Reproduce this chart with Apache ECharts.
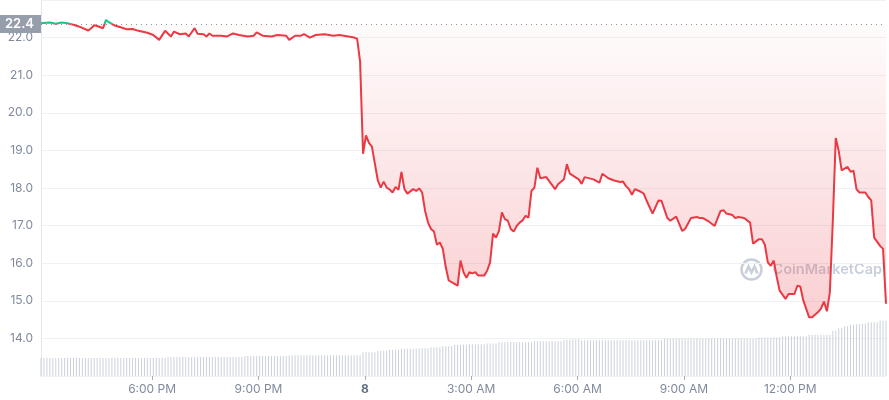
<!DOCTYPE html>
<html>
<head>
<meta charset="utf-8">
<script src="https://cdn.jsdelivr.net/npm/echarts@6/dist/echarts.min.js"></script>
<style>
  html, body { margin: 0; padding: 0; background: #fff; }
  #chart { width: 889px; height: 400px; }
</style>
</head>
<body>
<div id="chart"></div>
<script>
// 5-minute slots counted from 2:52 PM on the 7th
const priceSlots = [
  0, 3, 5, 7, 9, 11, 13, 16, 17, 18, 19, 21, 22, 23, 25, 28, 29, 31, 33, 36,
  38, 40, 42, 44, 45, 47, 49, 50, 52, 53, 55, 56, 57, 58, 61, 63, 65, 67, 70, 72,
  73, 75, 78, 80, 83, 84, 86, 88, 89, 91, 93, 96, 99, 101, 104, 106, 107, 108, 109, 110,
  111, 112, 114, 115, 116, 117, 118, 119, 120, 121, 122, 123, 124, 126, 127, 128, 129, 130, 131, 132,
  133, 134, 135, 136, 137, 138, 140, 141, 142, 143, 144, 145, 146, 147, 148, 150, 151, 152, 153, 154,
  155, 156, 157, 158, 159, 160, 161, 162, 163, 164, 165, 166, 167, 168, 169, 171, 174, 175, 177, 178,
  179, 182, 183, 184, 187, 189, 190, 192, 194, 196, 197, 198, 199, 200, 201, 203, 204, 205, 207, 209,
  210, 212, 213, 215, 217, 218, 220, 222, 223, 224, 226, 228, 230, 231, 232, 234, 235, 236, 238, 239,
  240, 241, 243, 244, 245, 246, 247, 248, 249, 250, 252, 253, 255, 256, 257, 258, 260, 261, 263, 264,
  265, 266, 267, 268, 269, 270, 271, 273, 274, 275, 276, 277, 279, 280, 281, 282, 284, 285, 286
];
const prices = [
  22.38, 22.40, 22.37, 22.40, 22.38, 22.34, 22.29, 22.19, 22.25, 22.33, 22.31, 22.25, 22.47, 22.41, 22.32, 22.25, 22.22, 22.23, 22.18, 22.13,
  22.07, 21.94, 22.18, 22.03, 22.16, 22.09, 22.11, 22.03, 22.25, 22.10, 22.09, 22.03, 22.11, 22.05, 22.05, 22.03, 22.11, 22.07, 22.03, 22.05,
  22.14, 22.05, 22.03, 22.07, 22.05, 21.94, 22.05, 22.05, 22.09, 22.00, 22.07, 22.09, 22.05, 22.07, 22.03, 22.00, 21.97, 21.36, 18.91, 19.40,
  19.20, 19.10, 18.20, 18.01, 18.17, 18.01, 17.96, 17.88, 18.03, 17.95, 18.43, 17.97, 17.85, 17.97, 17.92, 17.99, 17.88, 17.39, 17.08, 16.91,
  16.84, 16.49, 16.55, 16.38, 15.89, 15.54, 15.45, 15.40, 16.07, 15.76, 15.61, 15.76, 15.73, 15.76, 15.67, 15.67, 15.80, 16.02, 16.79, 16.68,
  16.86, 17.35, 17.17, 17.13, 16.91, 16.84, 16.99, 17.08, 17.14, 17.26, 17.21, 17.92, 18.01, 18.54, 18.26, 18.29, 17.97, 18.10, 18.23, 18.63,
  18.38, 18.23, 18.11, 18.29, 18.23, 18.14, 18.38, 18.26, 18.20, 18.16, 18.17, 18.05, 17.97, 17.82, 17.97, 17.90, 17.85, 17.66, 17.32, 17.67,
  17.66, 17.20, 17.13, 17.24, 16.86, 16.91, 17.20, 17.23, 17.20, 17.20, 17.11, 16.99, 17.39, 17.41, 17.32, 17.28, 17.20, 17.23, 17.20, 17.14,
  17.08, 16.52, 16.64, 16.64, 16.49, 16.02, 15.93, 16.07, 15.64, 15.27, 15.05, 15.18, 15.18, 15.40, 15.38, 15.01, 14.56, 14.56, 14.70, 14.79,
  14.98, 14.72, 15.23, 17.13, 19.33, 18.98, 18.47, 18.56, 18.43, 18.46, 17.97, 17.88, 17.88, 17.76, 17.67, 16.68, 16.46, 16.38, 14.92
];
// one volume bar per 5-minute slot (millions)
const volumes = [
  9.0, 9.0, 9.0, 9.0, 9.0, 9.0, 9.0, 9.0, 9.0, 9.0, 9.0, 9.0, 9.0, 9.0, 9.0,
  9.0, 9.0, 9.0, 9.0, 9.0, 9.0, 9.0, 9.0, 9.0, 9.0, 9.0, 9.0, 9.0, 9.0, 9.0,
  9.0, 9.0, 9.0, 9.0, 9.0, 9.0, 9.0, 9.0, 9.0, 9.0, 9.0, 9.0, 9.0,
  9.6, 9.6, 9.6, 9.6, 9.6, 9.6, 9.6, 9.6, 9.6, 9.6, 9.6, 9.6, 9.6,
  9.6, 9.6, 9.6, 9.6, 9.6, 9.6, 9.6, 9.6, 9.6, 9.6, 9.6, 9.6, 9.6,
  10.0, 10.0, 10.0, 10.0, 10.0, 10.0, 10.0, 10.0, 10.0, 10.0, 10.0, 10.0, 10.0, 10.0, 10.0,
  10.4, 10.4, 10.4, 10.4, 10.4, 10.4, 10.4, 10.4, 10.4, 10.4, 10.4, 10.4, 10.4,
  10.4, 10.4, 10.4, 10.4, 10.4, 10.4, 10.4, 10.4, 10.4, 10.4, 10.4, 10.4,
  12.0, 12.0, 12.0, 12.0, 12.0, 12.7, 12.7, 12.7, 12.7, 13.2, 13.2, 13.2, 13.2,
  13.7, 13.7, 13.7, 13.7, 13.7, 13.7, 14.0, 14.0, 14.0, 14.0, 14.5, 14.5, 14.5, 14.5,
  15.0, 15.0, 15.0, 15.0, 15.7, 15.7, 15.7, 15.7, 15.7, 16.0, 16.0, 16.0, 16.0, 16.0, 16.0,
  16.3, 16.3, 16.3, 16.3, 17.0, 17.0, 17.0, 17.0, 17.0, 17.0, 17.0, 17.0, 17.0, 17.0, 17.0, 17.0,
  17.5, 17.5, 17.5, 17.5, 17.5, 17.5, 17.5, 17.5, 17.5, 17.5, 18.2, 18.2, 18.2, 18.5, 18.5, 18.5,
  18.0, 18.0, 18.0, 18.0, 18.0, 18.0, 18.0, 18.0, 18.0, 18.0, 18.0, 18.0, 18.0, 18.0,
  18.0, 18.0, 18.0, 18.0, 18.0, 18.0, 18.0, 18.0, 18.0, 18.0, 18.0, 18.0, 18.0, 18.0,
  18.8, 18.8, 18.8, 18.8, 18.8, 18.8, 18.8, 18.8, 18.8, 18.8, 18.8, 18.8, 18.8, 18.8, 18.8, 18.8,
  18.8, 18.8, 18.8, 18.8, 18.8, 18.8, 18.8, 18.8, 18.8, 18.8, 18.8, 18.8, 18.8, 18.8, 18.8, 18.8,
  19.3, 19.3, 19.3, 19.3, 19.3, 19.3, 19.3, 19.3, 20.0, 20.0, 20.0, 20.0, 20.0, 20.0, 20.0, 20.0, 20.0,
  20.7, 20.7, 20.7, 20.7, 20.7, 20.7, 20.7, 20.7, 22.8, 22.8, 24.0, 24.0, 25.0, 25.0,
  25.7, 25.7, 26.0, 26.0, 26.3, 26.3, 27.0, 27.0, 27.0, 27.0, 27.8, 27.8, 27.8
];
const tickMinutes = [188, 368, 548, 728, 908, 1088, 1268];
const tickLabels = ['6:00 PM', '9:00 PM', '8', '3:00 AM', '6:00 AM', '9:00 AM', '12:00 PM'];
const dayLabelIndex = 2;
const openPrice = 22.36;
const slotMinutes = 5;

const RED = '#ea3943';
const GREEN = '#16c784';
const GREY_TEXT = '#808a9d';
const WATERMARK = 'rgba(178,187,202,0.7)';

const chart = echarts.init(document.getElementById('chart'));

const priceData = priceSlots.map((s, i) => [s * slotMinutes, prices[i]]);
const volumeData = volumes.map((v, i) => [i * slotMinutes, v]);
const lastMinute = priceSlots[priceSlots.length - 1] * slotMinutes;

const option = {
  animation: false,
  textStyle: { fontFamily: 'Inter' },
  grid: { left: 41, right: 3, top: -2, bottom: 24 },
  xAxis: {
    type: 'value',
    min: 0,
    max: lastMinute,
    axisLine: { show: false },
    axisTick: {
      show: true,
      customValues: tickMinutes,
      length: 4,
      lineStyle: { color: '#a9afba' },
    },
    axisLabel: {
      customValues: tickMinutes,
      color: GREY_TEXT,
      fontSize: 12,
      margin: 7,
      formatter: (v) => {
        const i = tickMinutes.indexOf(v)
        if (i < 0) return ''
        return i === dayLabelIndex ? '{day|' + tickLabels[i] + '}' : tickLabels[i]
      },
      rich: {
        day: { fontWeight: 'bold', color: '#616e85', fontSize: 12, fontFamily: 'Inter' },
      },
    },
    splitLine: { show: false },
  },
  yAxis: [
    {
      type: 'value',
      min: 13,
      max: 23,
      interval: 1,
      axisLine: { show: true, lineStyle: { color: '#e3e6eb' } },
      axisTick: { show: false },
      splitLine: { lineStyle: { color: '#eff1f4' } },
      axisLabel: {
        color: GREY_TEXT,
        fontSize: 12,
        margin: 8,
        formatter: (v) => (v <= 13 || v >= 23) ? '' : v.toFixed(1),
      },
    },
    { type: 'value', min: 0, max: 189, show: false, splitLine: { show: false } },
  ],
  visualMap: {
    type: 'piecewise',
    show: false,
    seriesIndex: 0,
    dimension: 1,
    pieces: [
      { gt: openPrice, lte: 100, color: GREEN },
      { gte: 0, lte: openPrice, color: RED },
    ],
  },
  series: [
    {
      name: 'Price',
      type: 'line',
      data: priceData,
      symbol: 'none',
      z: 3,
      lineStyle: { width: 2 },
      areaStyle: {
        origin: openPrice,
        color: new echarts.graphic.LinearGradient(0, 0, 0, 1, [
          { offset: 0, color: 'rgba(234,57,67,0.02)' },
          { offset: 1, color: 'rgba(234,57,67,0.34)' },
        ]),
      },
      markLine: {
        silent: true,
        symbol: ['none', 'none'],
        lineStyle: { type: [1, 4], color: '#8f96a3', width: 1 },
        label: {
          position: 'start',
          distance: 0,
          formatter: openPrice.toFixed(1),
          color: '#fff',
          fontSize: 13,
          fontWeight: 600,
          backgroundColor: '#979eab',
          padding: [3, 7, 2, 7],
        },
        data: [{ yAxis: openPrice }],
      },
    },
    {
      name: 'Volume',
      type: 'bar',
      yAxisIndex: 1,
      data: volumeData,
      barWidth: 1,
      silent: true,
      z: 1,
      itemStyle: { color: '#cbd1db' },
    },
  ],
  graphic: [
    {
      type: 'group',
      left: 739,
      top: 257,
      z: 10,
      silent: true,
      children: [
        { type: 'circle', shape: { cx: 11, cy: 11, r: 10 }, style: { fill: 'none', stroke: WATERMARK, lineWidth: 2.5 } },
        { type: 'polyline', shape: { points: [[5, 15], [8, 8], [11, 14], [14, 8], [17, 15]] }, style: { fill: 'none', stroke: WATERMARK, lineWidth: 2.5 } },
        { type: 'text', x: 32, y: 11, style: { text: 'CoinMarketCap', fontSize: 14.5, fontWeight: 600, fontFamily: 'Inter', fill: WATERMARK, verticalAlign: 'middle' } },
      ],
    },
  ],
};

chart.setOption(option);
</script>
</body>
</html>
